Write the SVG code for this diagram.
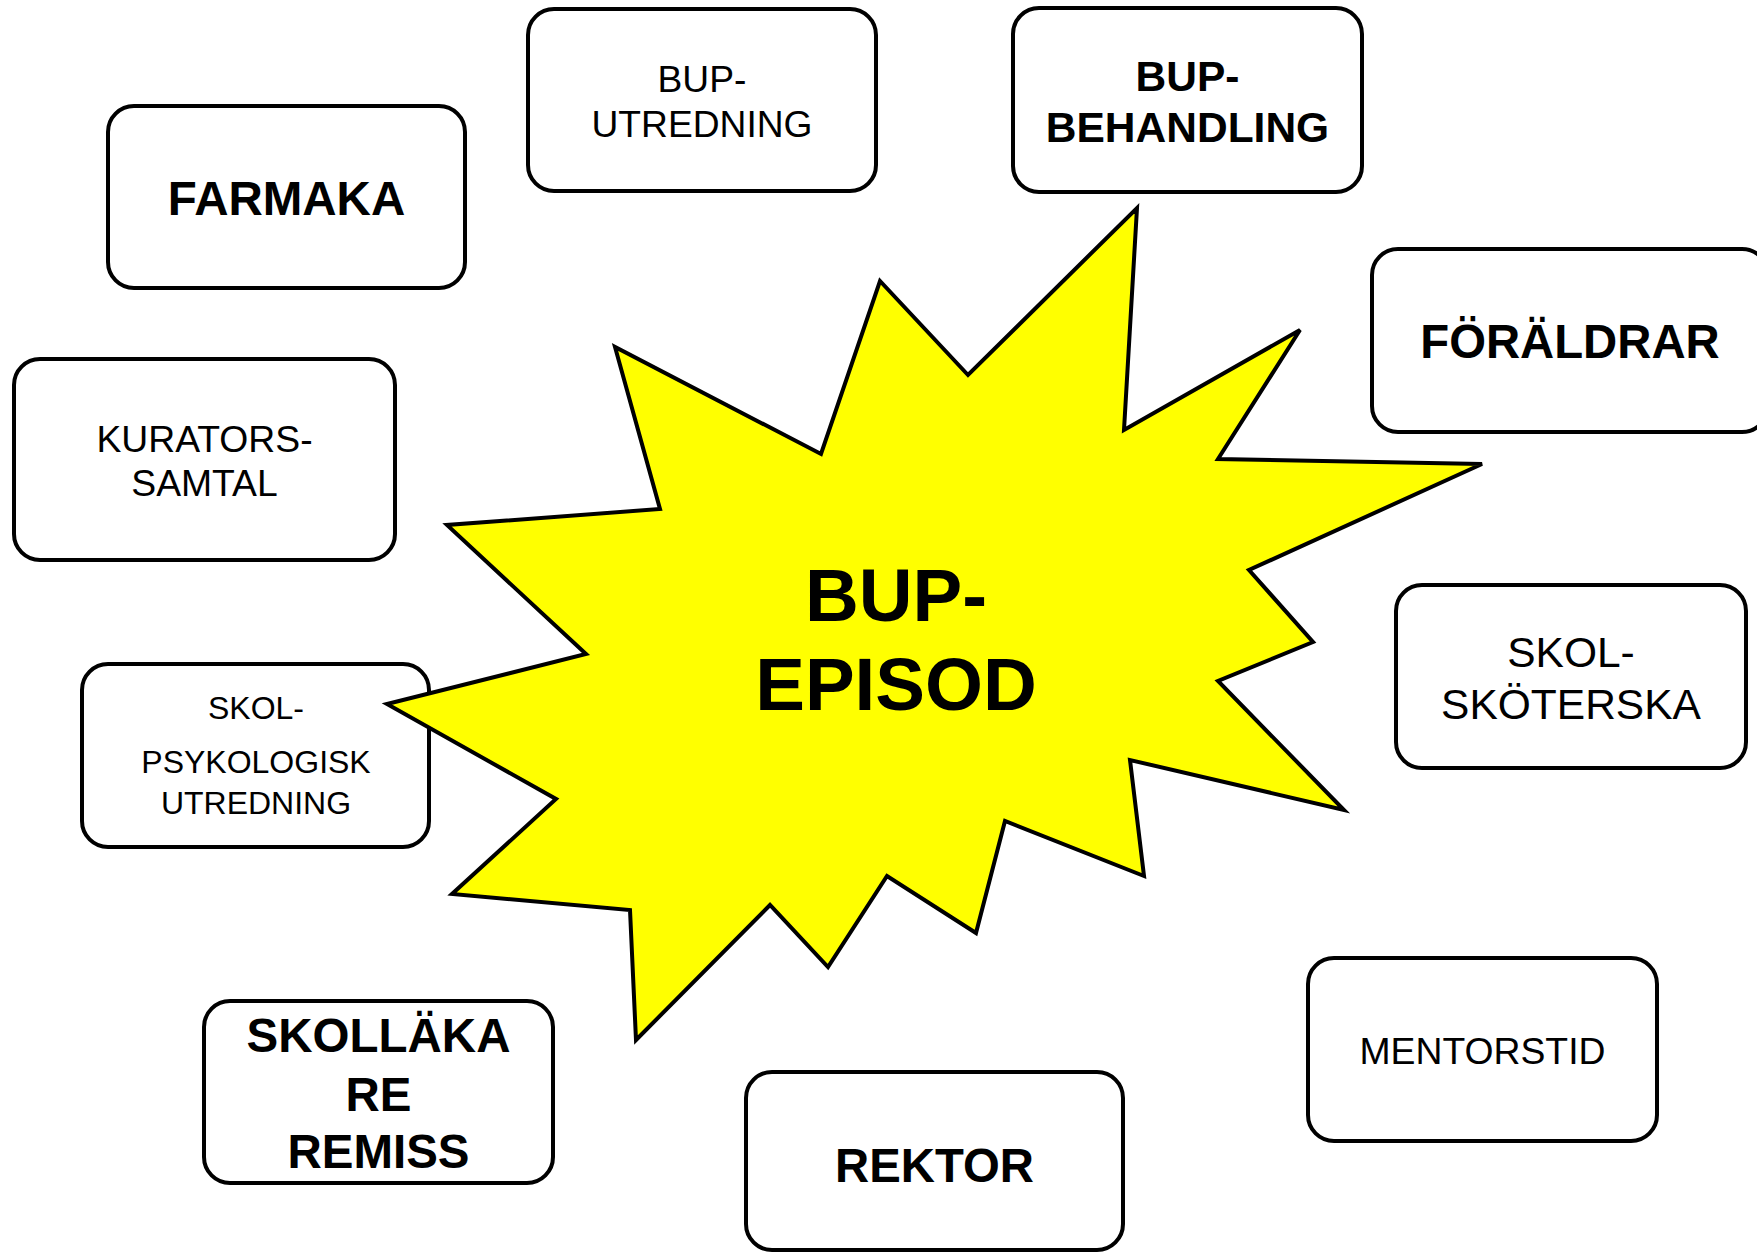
<svg xmlns="http://www.w3.org/2000/svg" width="1757" height="1252" viewBox="0 0 1757 1252">
<style>
.box{fill:#fff;stroke:#000;stroke-width:4}
.star{fill:#ffff00;stroke:#000;stroke-width:4;stroke-linejoin:miter}
text{font-family:"Liberation Sans",Arial,sans-serif;fill:#000;text-anchor:middle}
.b{font-weight:bold}
</style>
<rect width="1757" height="1252" fill="#fff"/>
<g id="connectors"/>
<g id="farmaka"><rect class="box" x="108" y="106" width="357" height="182" rx="26"/><text class="b" x="286.5" y="215" font-size="47.5">FARMAKA</text></g>
<g id="bup-utredning"><rect class="box" x="528" y="9" width="348" height="182" rx="26"/><text x="702" y="92" font-size="37.2">BUP-</text><text x="702" y="137" font-size="37.2">UTREDNING</text></g>
<g id="bup-behandling"><rect class="box" x="1013" y="8" width="349" height="184" rx="26"/><text class="b" x="1187.5" y="91" font-size="42.5">BUP-</text><text class="b" x="1187.5" y="142" font-size="42.5">BEHANDLING</text></g>
<g id="foraldrar"><rect class="box" x="1372" y="249" width="396" height="183" rx="26"/><text class="b" x="1570" y="358" font-size="47.3">FÖRÄLDRAR</text></g>
<g id="kuratorssamtal"><rect class="box" x="14" y="359" width="381" height="201" rx="26"/><text x="204.5" y="451.5" font-size="37.3">KURATORS-</text><text x="204.5" y="496" font-size="37.3">SAMTAL</text></g>
<g id="skolpsykologisk"><rect class="box" x="82" y="664" width="347" height="183" rx="26"/><text x="256" y="719" font-size="32">SKOL-</text><text x="256" y="772.5" font-size="32">PSYKOLOGISK</text><text x="256" y="814" font-size="32">UTREDNING</text></g>
<g id="skollakare"><rect class="box" x="204" y="1001" width="349" height="182" rx="26"/><text class="b" x="378.5" y="1052" font-size="47.5">SKOLLÄKA</text><text class="b" x="378.5" y="1110.5" font-size="47.5">RE</text><text class="b" x="378.5" y="1167.5" font-size="47.5">REMISS</text></g>
<g id="rektor"><rect class="box" x="746" y="1072" width="377" height="178" rx="26"/><text class="b" x="934.5" y="1182" font-size="47.3">REKTOR</text></g>
<g id="skolskoterska"><rect class="box" x="1396" y="585" width="350" height="183" rx="26"/><text x="1571" y="666.5" font-size="42.5">SKOL-</text><text x="1571" y="718.5" font-size="42.5">SKÖTERSKA</text></g>
<g id="mentorstid"><rect class="box" x="1308" y="958" width="349" height="183" rx="26"/><text x="1482.5" y="1063.5" font-size="37.3">MENTORSTID</text></g>
<g id="bup-episod"><polygon class="star" points="1137,208 1124,430 1300,330 1218,459 1482,464 1249,570 1313,642 1218,681 1344,810 1130,760 1144,876 1005,821 976,933 887,876 828,967 770,905 636,1040 630,910 452,894 556,799 387,704 586,654 447,525 660,509 615,347 821,454 880,281 968,375"/><text class="b" x="896" y="621" font-size="74.5">BUP-</text><text class="b" x="896" y="710" font-size="74.5">EPISOD</text></g>
</svg>
